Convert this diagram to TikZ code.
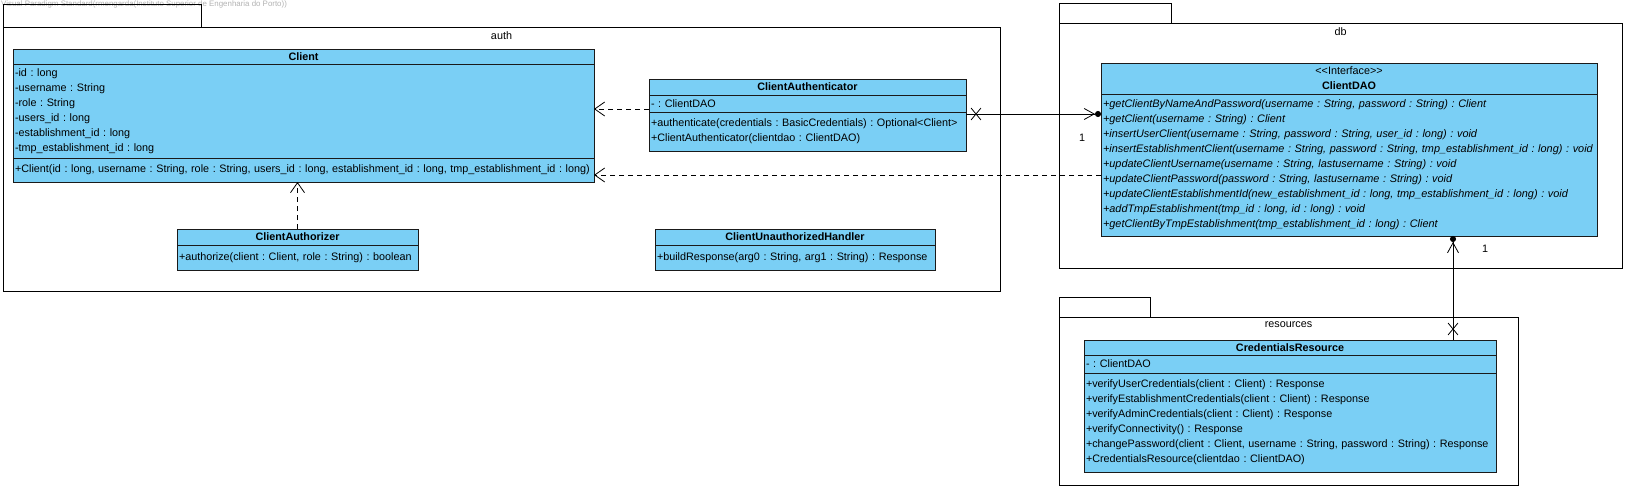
\documentclass[tikz,border=0pt]{standalone}
\usepackage{fontspec}
\setmainfont{Liberation Sans}
\usetikzlibrary{arrows.meta,positioning,shapes.misc}
\definecolor{classfill}{HTML}{7ACFF5}
\definecolor{classline}{HTML}{1A1A1A}
\newcommand\umlfont{\fontsize{10.8}{15}\selectfont\frenchspacing}
\newcommand\umlitfont{\fontsize{10.9}{15}\selectfont\frenchspacing\itshape}

\begin{document}
\begin{tikzpicture}[x=1pt,y=-1pt,font=\umlfont,
  pkgbox/.style={draw,line width=0.9pt,inner sep=0pt,outer sep=0pt,anchor=north west},
  pkgtab/.style={draw,line width=0.9pt,inner sep=0pt,outer sep=0pt,anchor=south west},
  pkgname/.style={anchor=north,inner sep=0pt,yshift=-4.5pt},
  classhead/.style={draw=classline,fill=classfill,line width=0.9pt,font=\umlfont\bfseries,align=center,inner sep=0pt,outer sep=0pt,minimum width=#1},
  classpart/.style={draw=classline,fill=classfill,line width=0.9pt,align=left,inner xsep=2pt,inner ysep=0pt,outer sep=0pt,text width=#1},
  dep/.style={line width=0.8pt,dash pattern=on 5pt off 4pt,-{Straight Barb[length=10pt,width=14pt]}},
  assoc/.style={line width=0.8pt,-{Straight Barb[length=10pt,width=11pt]Circle[length=6pt]}},
  xmark/.style={draw,cross out,line width=0.8pt,minimum width=9pt,minimum height=11pt,inner sep=0pt},
  mult/.style={inner sep=0pt}]
  \useasboundingbox (0,0) rectangle (1627,490);

  \node[anchor=north west,inner sep=0pt,text=gray!60,font=\fontsize{7.9}{8}\selectfont] (vpmark) at (1,1) {Visual Paradigm Standard(rmengarda(Instituto Superior de Engenharia do Porto))};

  % packages
  \node[pkgbox,minimum width=997pt,minimum height=264pt] (auth) at (3,27) {};
  \node[pkgtab,minimum width=198pt,minimum height=23pt] (authtab) at (auth.north west) {};
  \node[pkgname] (authname) at (auth.north) {auth};

  \node[pkgbox,minimum width=563pt,minimum height=245pt] (db) at (1059,23) {};
  \node[pkgtab,minimum width=112pt,minimum height=20pt] (dbtab) at (db.north west) {};
  \node[pkgname] (dbname) at (db.north) {db};

  \node[pkgbox,minimum width=459pt,minimum height=168pt] (res) at (1059,317) {};
  \node[pkgtab,minimum width=91pt,minimum height=20pt] (restab) at (res.north west) {};
  \node[pkgname] (resname) at (res.north) {resources};

  % auth classes
  \node[classhead=581pt,minimum height=15pt,anchor=north west] (client) at (13,49) {Client};
  \node[classpart=577pt,minimum height=94pt,below=0pt of client] (client-attr) {-id : long\\-username : String\\-role : String\\-users\_id : long\\-establishment\_id : long\\-tmp\_establishment\_id : long};
  \node[classpart=577pt,minimum height=24pt,below=0pt of client-attr] (client-ops) {\mbox{+Client(id : long, username : String, role : String, users\_id : long, establishment\_id : long, tmp\_establishment\_id : long)}};

  \node[classhead=317pt,minimum height=16pt,anchor=north west] (authn) at (649,79) {ClientAuthenticator};
  \node[classpart=313pt,minimum height=17pt,below=0pt of authn] (authn-attr) {- : ClientDAO};
  \node[classpart=313pt,minimum height=39pt,below=0pt of authn-attr] (authn-ops) {+authenticate(credentials : BasicCredentials) : Optional<Client>\\+ClientAuthenticator(clientdao : ClientDAO)};

  \node[classhead=241pt,minimum height=16pt,anchor=north west] (authz) at (177,229) {ClientAuthorizer};
  \node[classpart=237pt,minimum height=25pt,below=0pt of authz] (authz-ops) {+authorize(client : Client, role : String) : boolean};

  \node[classhead=280pt,minimum height=16pt,anchor=north west] (handler) at (655,229) {ClientUnauthorizedHandler};
  \node[classpart=276pt,minimum height=25pt,below=0pt of handler] (handler-ops) {+buildResponse(arg0 : String, arg1 : String) : Response};

  % db interface
  \node[classhead=496pt,minimum height=31pt,anchor=north west] (clientdao) at (1101,63) {{\mdseries <\kern0pt<Interface>\kern0pt>}\\ClientDAO};
  \node[classpart=492pt,minimum height=142pt,below=0pt of clientdao,font=\umlitfont] (clientdao-ops) {+getClientByNameAndPassword(username : String, password : String) : Client\\+getClient(username : String) : Client\\+insertUserClient(username : String, password : String, user\_id : long) : void\\\mbox{+insertEstablishmentClient(username : String, password : String, tmp\_establishment\_id : long) : void}\\+updateClientUsername(username : String, lastusername : String) : void\\+updateClientPassword(password : String, lastusername : String) : void\\\mbox{+updateClientEstablishmentId(new\_establishment\_id : long, tmp\_establishment\_id : long) : void}\\+addTmpEstablishment(tmp\_id : long, id : long) : void\\+getClientByTmpEstablishment(tmp\_establishment\_id : long) : Client};

  % resources
  \node[classhead=412pt,minimum height=15pt,anchor=north west] (credres) at (1084,340) {CredentialsResource};
  \node[classpart=408pt,minimum height=18pt,below=0pt of credres] (credres-attr) {- : ClientDAO};
  \node[classpart=408pt,minimum height=99pt,below=0pt of credres-attr] (credres-ops) {+verifyUserCredentials(client : Client) : Response\\+verifyEstablishmentCredentials(client : Client) : Response\\+verifyAdminCredentials(client : Client) : Response\\+verifyConnectivity() : Response\\\mbox{+changePassword(client : Client, username : String, password : String) : Response}\\+CredentialsResource(clientdao : ClientDAO)};

  % connectors
  \coordinate (dep1) at (0,109);
  \coordinate (dep2) at (0,175);
  \coordinate (nav1) at (0,114);
  \coordinate (nav2) at (1453,0);
  \draw[dep] (authn-attr.west |- dep1) -- (client-attr.east |- dep1);
  \draw[dep] (clientdao-ops.west |- dep2) -- (client-ops.east |- dep2);
  \draw[dep] (authz.north) -- (client-ops.south -| authz.north);
  \draw[assoc] (authn-ops.east |- nav1) -- node[xmark,at start,xshift=10pt] (x1) {} node[mult,at end,xshift=-19pt,yshift=-24pt] (m1) {1} (clientdao-ops.west |- nav1);
  \draw[assoc] (credres.north -| nav2) -- node[xmark,at start,yshift=11pt] (x2) {} node[mult,at end,xshift=32pt,yshift=-13pt] (m2) {1} (clientdao-ops.south -| nav2);
\end{tikzpicture}
\end{document}
